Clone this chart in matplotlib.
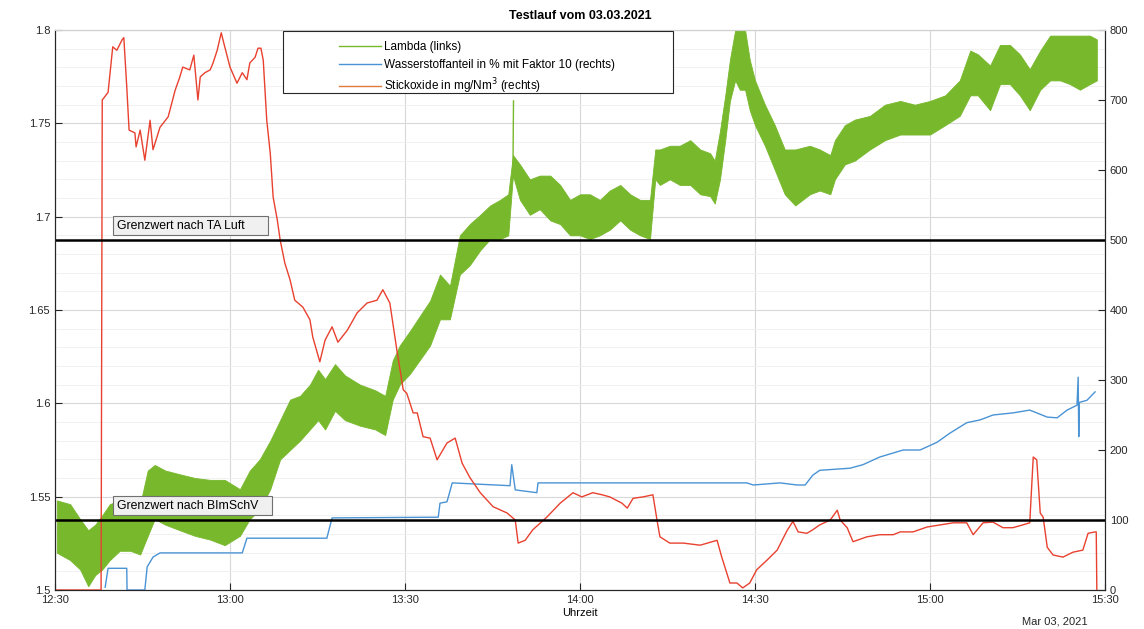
import numpy as np
import pandas as pd
import matplotlib
matplotlib.use('Agg')
import matplotlib.pyplot as plt
import matplotlib.dates as mdates
from matplotlib.patches import Rectangle
from matplotlib.ticker import MultipleLocator, FuncFormatter

plt.rcParams['font.family'] = ['Liberation Sans', 'DejaVu Sans']

start = pd.Timestamp('2021-03-03 12:30')

# Lambda band (left axis), minutes after 12:30, lower / upper edge of the noisy trace
lam_t = [0.3, 2.6, 4.3, 5.7, 6.9, 8.1, 9.4, 11.1, 12.9, 14.6, 15.9, 17.1, 18.9, 21.4, 24.0,
         26.6, 29.1, 31.7, 33.4, 35.1, 36.9, 38.6, 40.3, 42.0, 43.7, 45.1, 46.3, 48.0, 49.7,
         52.3, 54.9, 56.6, 57.9, 59.1, 60.9, 64.3, 66.0, 67.7, 69.4, 71.1, 72.9, 74.6, 76.3,
         77.7, 78.5, 79.7, 81.4, 83.1, 84.9, 86.6, 88.3, 90.0, 91.7, 93.4, 95.1, 96.9, 98.6,
         100.3, 102.0, 102.9, 103.7, 105.4, 107.1, 108.9, 110.6, 112.3, 113.1, 114.0, 114.9,
         115.7, 116.6, 117.4, 118.3, 119.1, 120.0, 121.7, 123.4, 125.1, 126.9, 129.4, 131.1,
         132.9, 133.7, 135.4, 137.1, 139.7, 142.3, 144.9, 147.4, 150.0, 152.6, 155.1, 156.9,
         158.2, 160.3, 162.0, 163.7, 165.4, 167.1, 168.9, 170.6, 172.3, 174.0, 175.7, 177.4, 178.6]
lam_hi = [1.548, 1.546, 1.538, 1.532, 1.535, 1.540, 1.546, 1.548, 1.548, 1.546, 1.564, 1.567,
          1.564, 1.562, 1.560, 1.559, 1.559, 1.554, 1.564, 1.570, 1.580, 1.591, 1.602, 1.604,
          1.610, 1.618, 1.613, 1.621, 1.615, 1.610, 1.607, 1.604, 1.623, 1.631, 1.639, 1.655,
          1.669, 1.663, 1.690, 1.696, 1.701, 1.706, 1.709, 1.712, 1.733, 1.728, 1.720, 1.722,
          1.722, 1.717, 1.709, 1.712, 1.712, 1.709, 1.714, 1.717, 1.712, 1.709, 1.709, 1.736,
          1.736, 1.738, 1.738, 1.741, 1.736, 1.734, 1.730, 1.746, 1.765, 1.784, 1.800, 1.800,
          1.800, 1.784, 1.773, 1.760, 1.749, 1.736, 1.736, 1.738, 1.736, 1.733, 1.741, 1.749,
          1.752, 1.754, 1.760, 1.762, 1.760, 1.762, 1.765, 1.773, 1.789, 1.787, 1.781, 1.792,
          1.792, 1.787, 1.779, 1.789, 1.797, 1.797, 1.797, 1.797, 1.797, 1.795]
lam_lo = [1.520, 1.516, 1.511, 1.502, 1.508, 1.511, 1.516, 1.521, 1.521, 1.519, 1.529, 1.538,
          1.535, 1.532, 1.529, 1.527, 1.524, 1.529, 1.538, 1.543, 1.554, 1.570, 1.575, 1.580,
          1.586, 1.591, 1.586, 1.596, 1.591, 1.588, 1.586, 1.583, 1.602, 1.610, 1.616, 1.631,
          1.645, 1.645, 1.669, 1.674, 1.682, 1.688, 1.688, 1.690, 1.722, 1.709, 1.701, 1.704,
          1.698, 1.696, 1.690, 1.690, 1.688, 1.690, 1.693, 1.698, 1.693, 1.690, 1.688, 1.720,
          1.717, 1.720, 1.717, 1.717, 1.712, 1.711, 1.707, 1.720, 1.741, 1.762, 1.773, 1.768,
          1.768, 1.757, 1.749, 1.738, 1.725, 1.712, 1.706, 1.712, 1.714, 1.712, 1.720, 1.728,
          1.730, 1.736, 1.741, 1.744, 1.744, 1.744, 1.749, 1.754, 1.765, 1.765, 1.757, 1.771,
          1.771, 1.765, 1.757, 1.768, 1.773, 1.773, 1.771, 1.768, 1.771, 1.773]

# hydrogen share x10 (right axis)
h2_t = [8.6, 9.1, 12.3, 12.35, 15.4, 15.8, 16.8, 18.0, 32.1, 32.9, 46.6, 47.5, 65.7, 66.0,
        67.2, 68.1, 78.0, 78.3, 78.9, 82.6, 82.8, 118.6, 119.7, 124.3, 127.2, 128.6, 129.9,
        131.1, 136.3, 138.5, 141.4, 145.4, 148.3, 151.2, 153.4, 156.3, 158.6, 160.8, 164.2,
        167.1, 168.3, 170.1, 171.8, 173.5, 175.2, 175.4, 175.5, 175.6, 176.9, 178.3]
h2_v = [4, 31, 31, 0, 0, 33, 47, 53, 53, 74, 74, 103, 104, 124, 126, 153, 149, 179, 143, 139,
        153, 153, 150, 153, 150, 150, 164, 171, 174, 179, 190, 200, 200, 211, 224, 239, 243,
        250, 253, 257, 253, 247, 246, 257, 264, 304, 219, 268, 271, 283]

# nitrogen oxides (right axis)
nox_t = [0, 7.7, 7.9, 8.1, 9.1, 9.9, 10.6, 11.5, 11.8, 12.3, 12.7, 13.7, 13.9, 14.6, 15.4,
         16.3, 16.8, 18.0, 19.4, 20.6, 21.4, 21.9, 23.1, 23.8, 24.5, 24.9, 25.7, 26.6, 27.1,
         27.8, 28.5, 29.1, 30.0, 31.2, 32.1, 32.9, 33.4, 34.3, 34.8, 35.3, 35.7, 36.3, 36.9,
         37.4, 38.1, 38.6, 39.4, 40.3, 41.1, 42.5, 43.7, 44.2, 45.4, 46.3, 47.5, 48.5, 50.1,
         51.8, 53.5, 55.2, 56.2, 57.4, 58.6, 59.7, 60.3, 61.4, 62.1, 63.1, 64.3, 65.5, 67.2,
         68.6, 69.8, 71.1, 72.9, 75.1, 77.5, 78.9, 79.4, 80.6, 81.9, 84.3, 86.6, 88.8, 90.3,
         92.2, 93.8, 95.1, 97.2, 98.1, 99.1, 100.8, 102.5, 103.2, 103.7, 105.4, 107.7, 110.6,
         113.5, 114.3, 115.7, 116.9, 117.9, 119.1, 120.3, 122.1, 123.8, 125.5, 126.5, 127.4,
         128.9, 129.9, 131.1, 132.9, 134.1, 134.6, 135.8, 136.8, 139.2, 141.4, 143.7, 144.9,
         147.1, 149.5, 151.7, 154.0, 156.3, 157.4, 159.1, 160.8, 162.5, 164.2, 165.9, 167.1,
         167.7, 168.3, 168.9, 169.4, 170.1, 171.1, 172.8, 174.5, 176.2, 177.1, 178.3, 178.5, 178.6]
nox_v = [0, 0, 0, 700, 711, 776, 771, 786, 789, 719, 657, 653, 633, 657, 614, 671, 629, 661,
         676, 714, 733, 747, 743, 764, 700, 733, 739, 743, 753, 771, 796, 776, 747, 724, 739,
         729, 753, 761, 774, 774, 757, 671, 624, 561, 529, 500, 467, 443, 414, 404, 386, 361,
         326, 357, 376, 354, 371, 396, 410, 414, 429, 410, 343, 286, 281, 253, 253, 219, 217,
         186, 210, 217, 181, 161, 139, 119, 110, 100, 67, 71, 86, 104, 124, 139, 133, 139, 136,
         133, 124, 117, 131, 133, 136, 100, 76, 67, 67, 64, 71, 47, 10, 10, 3, 10, 29, 43, 57,
         85, 98, 83, 81, 86, 93, 100, 114, 100, 89, 69, 76, 79, 79, 83, 83, 90, 93, 96, 96, 79,
         96, 97, 89, 89, 93, 96, 190, 186, 110, 104, 61, 50, 47, 54, 57, 81, 83, 83, 0]

limit_ta = 500
limit_bimsch = 100


def to_time(m):
    return start + pd.to_timedelta(np.array(m, dtype=float), unit='m')


green = '#77b82c'
blue = '#4a93d4'
red = '#e8412f'

fig = plt.figure(figsize=(11.44, 6.29), dpi=100)
ax = fig.add_axes([55 / 1144, 39 / 629, 1050 / 1144, 560 / 629])
ax2 = ax.twinx()

ax.fill_between(to_time(lam_t), lam_lo, lam_hi, color=green, lw=0.6, edgecolor=green)
ax.plot(to_time([78.5, 78.6]), [1.722, 1.762], color=green, lw=1)
ax2.plot(to_time(h2_t), h2_v, color=blue, lw=1)
ax2.plot(to_time(nox_t), nox_v, color=red, lw=1)
ax2.axhline(limit_ta, color='black', lw=1.8)
ax2.axhline(limit_bimsch, color='black', lw=1.8)

box = dict(boxstyle='square,pad=0.3', fc='#f0f0f0', ec='#707070', lw=0.8)
ax2.text(to_time([10.6])[0], limit_ta + 12, 'Grenzwert nach TA Luft      ', fontsize=8.8,
         va='bottom', ha='left', bbox=box)
ax2.text(to_time([10.6])[0], limit_bimsch + 12, 'Grenzwert nach BImSchV   ', fontsize=8.8,
         va='bottom', ha='left', bbox=box)

ax.set_xlim(start, start + pd.Timedelta(minutes=180))
ax.set_ylim(1.5, 1.8)
ax2.set_ylim(0, 800)
ax.yaxis.set_major_locator(MultipleLocator(0.05))
ax.yaxis.set_minor_locator(MultipleLocator(0.01))
ax.yaxis.set_major_formatter(FuncFormatter(lambda v, p: '%g' % round(v, 2)))
ax2.yaxis.set_major_locator(MultipleLocator(100))
ax.xaxis.set_major_locator(mdates.MinuteLocator(byminute=[0, 30]))
ax.xaxis.set_major_formatter(mdates.DateFormatter('%H:%M'))

ax.grid(True, which='major', color='#d8d8d8', lw=0.8)
ax.grid(True, which='minor', axis='y', color='#efefef', lw=0.6)
ax.set_axisbelow(True)

for a in (ax, ax2):
    a.tick_params(which='both', direction='in', labelsize=8, colors='#262626', length=5)
    a.tick_params(which='minor', length=0)
    for s in a.spines.values():
        s.set_color('#262626')
        s.set_linewidth(0.8)
    a.spines['top'].set_color('#d0d0d0')

ax.set_xlabel('Uhrzeit', fontsize=8, labelpad=2)
ax.set_title('Testlauf vom 03.03.2021', fontsize=9, fontweight='bold', pad=8)
fig.text(1055 / 1144, 1 - 621 / 629, 'Mar 03, 2021', fontsize=8, ha='center', va='center',
         color='#262626')

# legend: MATLAB-style wide box, entries drawn without their own frame
fig.add_artist(Rectangle((283 / 1144, 1 - 93 / 629), 390 / 1144, 62 / 629,
                         transform=fig.transFigure, fc='white', ec='#262626', lw=0.8,
                         zorder=5))
handles = [plt.Line2D([], [], color=green, lw=1),
           plt.Line2D([], [], color=blue, lw=1),
           plt.Line2D([], [], color='#e07a3a', lw=1)]
labels = ['Lambda (links)', 'Wasserstoffanteil in % mit Faktor 10 (rechts)',
          'Stickoxide in mg/Nm$^3$ (rechts)']
leg = fig.legend(handles, labels, loc='upper left',
                 bbox_to_anchor=(330 / 1144, 1 - 32 / 629), bbox_transform=fig.transFigure,
                 fontsize=8.5, frameon=False, handlelength=3.5, borderpad=0.3,
                 labelspacing=0.45, handletextpad=0.25)
leg.set_zorder(6)

fig.savefig('out.png', dpi=100)
